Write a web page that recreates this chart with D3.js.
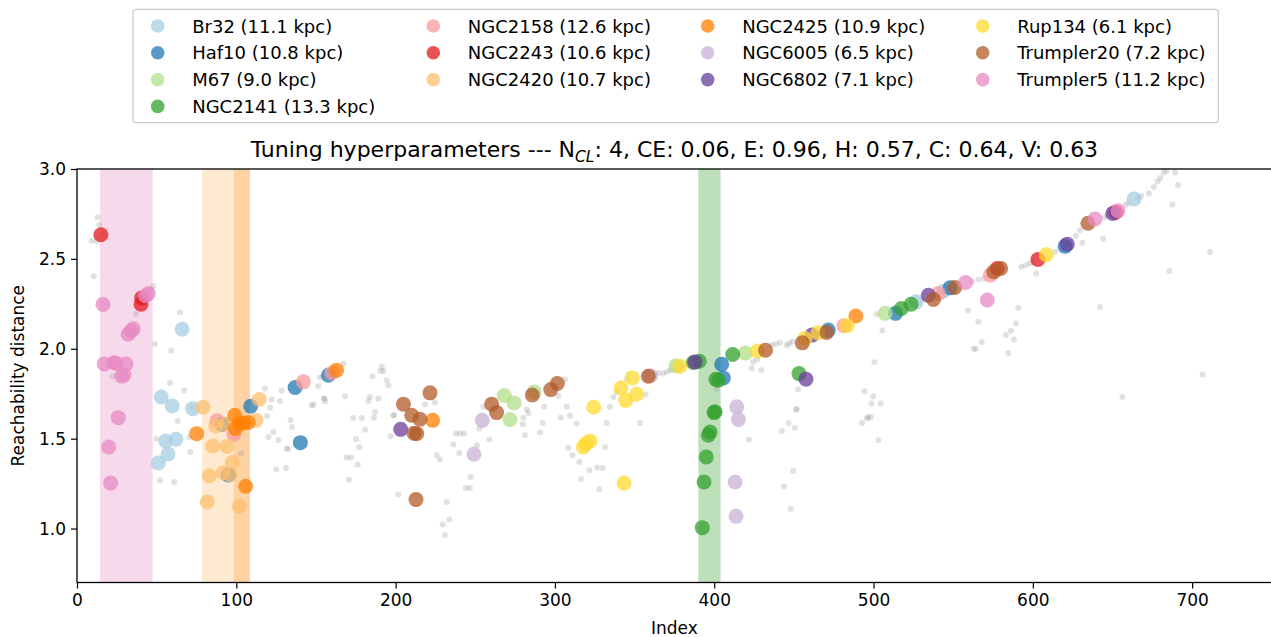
<!DOCTYPE html>
<html>
<head>
<meta charset="utf-8">
<script src="https://cdn.jsdelivr.net/npm/d3@7"></script>
<style>
  body { margin: 0; background: #fff; }
  svg { font-family: "DejaVu Sans", sans-serif; }
</style>
</head>
<body>
<div id="chart"></div>
<script>
// cluster names, distances and colours (legend order)
const clusterNames = ["Br32", "Haf10", "M67", "NGC2141", "NGC2158", "NGC2243", "NGC2420",
  "NGC2425", "NGC6005", "NGC6802", "Rup134", "Trumpler20", "Trumpler5"];
const clusterDist = [11.1, 10.8, 9.0, 13.3, 12.6, 10.6, 10.7, 10.9, 6.5, 7.1, 6.1, 7.2, 11.2];
const clusterColors = ["#a6cee3", "#1f78b4", "#b2df8a", "#33a02c", "#fb9a99", "#e31a1c", "#fdbf6f",
  "#ff7f00", "#cab2d6", "#6a3d9a", "#ffd92f", "#b15928", "#e78ac3"];

// shaded index ranges of the tuned clusters
const spanRanges = [[14.4, 47.5, "#e78ac3"], [78.5, 108.6, "#fdbf6f"], [98.4, 108.6, "#ff7f00"], [390, 404, "#33a02c"]];

// member stars: [ordering index, reachability distance]
const Br32 = [[66,2.109],[52.9,1.732],[59.8,1.682],[72.6,1.667],[62.1,1.497],[55.7,1.487],[57.1,1.415],[51,1.365],
  [526.8,2.261],[543.9,2.32],[663.6,2.833]];
const Haf10 = [[91.2,1.58],[95,1.298],[109,1.68],[140.2,1.478],[136.9,1.785],[157.8,1.853],[404.7,1.914],[405.7,1.838],
  [471.6,2.104],[513.8,2.197],[548,2.339],[620.3,2.571]];
const M67 = [[268.2,1.74],[274.3,1.699],[271.8,1.606],[287,1.76],[376,1.905],[419.6,1.977],[507.3,2.197]];
const NGC2141 = [[390.6,1.931],[386.9,1.924],[402.6,1.825],[401,1.83],[411.6,1.968],[399.9,1.645],[400.5,1.65],[397.4,1.537],
  [396.3,1.519],[395,1.398],[393.6,1.259],[392.5,1.005],[453.2,1.862],[517.5,2.224],[523.6,2.248]];
const NGC2158 = [[87.9,1.6],[98.4,1.523],[142.1,1.816],[160,1.865],[481.4,2.128],[540.8,2.308],[573.3,2.41]];
const NGC2243 = [[15,2.634],[40.2,2.248],[40.6,2.283],[577.7,2.447],[603.2,2.497],[652,2.76]];
const NGC2420 = [[79.1,1.675],[85.2,1.459],[94.2,1.457],[83,1.294],[91.8,1.311],[97.5,1.369],[81.8,1.148],[101.9,1.125],
  [87.1,1.571],[112.4,1.602],[114.4,1.718],[96,1.3],[93,1.58]];
const NGC2425 = [[75.1,1.528],[99,1.63],[99.4,1.556],[104.4,1.587],[107.5,1.59],[105.9,1.235],[102,1.585],[163,1.881],
  [223.3,1.602],[488.9,2.182]];
const NGC6005 = [[254.4,1.602],[249.2,1.413],[414.1,1.677],[415.2,1.606],[413.1,1.259],[413.7,1.068],[360,1.85]];
const NGC6802 = [[203.2,1.552],[388,1.927],[457.6,1.831],[461.4,2.076],[534.4,2.298],[621.6,2.582],[650.2,2.753]];
const Rup134 = [[324.3,1.675],[341.5,1.782],[348.6,1.838],[344.4,1.712],[351.3,1.747],[317.8,1.454],[322,1.487],[319.5,1.473],
  [343.4,1.253],[378.5,1.903],[427.2,1.987],[465.2,2.089],[457,2.057],[483.5,2.128],[608.4,2.523]];
const Trumpler20 = [[204.9,1.692],[221.6,1.755],[210.1,1.63],[215.3,1.608],[213.2,1.528],[211.5,1.53],[212.8,1.161],
  [260.3,1.692],[263.4,1.645],[285.8,1.743],[297.4,1.773],[301.5,1.807],[358.6,1.847],[432.2,1.992],[455.3,2.033],
  [470.6,2.091],[537.6,2.274],[551,2.341],[575.5,2.428],[579.8,2.447],[634.6,2.698]];
const Trumpler5 = [[16.3,2.247],[44.8,2.308],[43,2.295],[35.3,2.111],[32,2.081],[33.9,2.098],[17.1,1.916],[23.2,1.922],
  [24.5,1.92],[30.8,1.916],[28,1.848],[29.5,1.855],[25.9,1.617],[19.9,1.454],[21.1,1.253],[557.8,2.369],[571.4,2.271],
  [639,2.722],[653.4,2.768]];
const members = [Br32, Haf10, M67, NGC2141, NGC2158, NGC2243, NGC2420, NGC2425, NGC6005, NGC6802, Rup134, Trumpler20, Trumpler5];

// all other stars of the reachability plot
const field = [[13,2.731],[14,2.69],[9.2,2.601],[12.3,2.6],[10.5,2.404],[47.9,2.349],[46.5,2.33],[37,2.193],[64.7,2.202],
  [49,2.027],[59.2,1.99],[22.4,1.847],[58.4,1.81],[67.4,1.77],[118,1.779],[128.5,1.766],[122.2,1.718],[127.4,1.71],
  [147.3,1.686],[148.5,1.69],[155,1.723],[152.5,1.84],[151.5,1.792],[121.2,1.673],[63.2,1.599],[70.5,1.51],[50,1.5],
  [71.1,1.426],[52.1,1.267],[61.1,1.259],[72.6,1.673],[103,1.417],[119.3,1.626],[134.1,1.602],[135,1.565],[120.1,1.509],
  [123.2,1.537],[126.4,1.491],[131.6,1.445],[132.6,1.443],[125.1,1.33],[131.2,1.337],[155.7,1.708],[167.2,1.918],
  [191.3,1.9],[192.3,1.877],[190.5,1.877],[185.4,1.847],[194.4,1.825],[195.5,1.797],[155.3,1.723],[168.2,1.736],
  [183.9,1.732],[182.9,1.71],[189.1,1.723],[199,1.63],[218.5,1.69],[224.7,1.701],[173.4,1.615],[178.7,1.615],
  [187.1,1.649],[186.4,1.617],[180.8,1.55],[175.1,1.497],[177.2,1.452],[169.3,1.395],[172,1.395],[176.2,1.357],
  [170.7,1.271],[198.6,1.63],[196.9,1.513],[201.7,1.189],[225.8,1.408],[227.9,1.384],[232.1,1.148],[233.7,1.051],
  [229.6,1.022],[231,0.964],[236.2,1.467],[238,1.528],[240.5,1.53],[243,1.528],[240,1.42],[244,1.226],[246.6,1.226],
  [247.1,1.287],[251,1.463],[252.6,1.556],[258.8,1.495],[255,1.677],[280.2,1.617],[281.2,1.519],[283.3,1.643],
  [279.8,1.58],[282.3,1.662],[290.6,1.536],[292.3,1.587],[293.3,1.677],[302.1,1.738],[306.3,1.829],[303.6,1.617],
  [307.4,1.677],[309.5,1.628],[313.7,1.584],[308.4,1.45],[311,1.408],[315.3,1.37],[316.4,1.276],[321.6,1.324],
  [326.6,1.339],[330,1.337],[331.5,1.454],[327.9,1.218],[332.5,1.587],[334.6,1.677],[336.7,1.732],[338.8,1.76],
  [345.1,1.834],[357,1.746],[353.4,1.587],[368,1.863],[370.2,1.872],[372.3,1.881],[401.5,1.779],[421.8,1.495],
  [442.4,1.543],[446.7,1.587],[450.6,1.561],[451.5,1.662],[449.5,1.32],[443.9,1.235],[448,1.11],[492.8,1.587],
  [496,1.612],[498.3,1.62],[503,1.491],[498.7,1.695],[504.5,1.695],[423.5,1.89],[429.6,1.881],[424.4,1.927],
  [435.9,2.02],[438.5,2.027],[441.3,2.033],[445.6,2.02],[452.6,1.775],[451.7,1.664],[494.4,1.764],[499.7,1.736],
  [496.5,1.621],[500.6,1.925],[505.6,2.102],[502,2.193],[559.3,2.215],[565.8,2.15],[567.9,2.038],[563,2.0],[564,2.0],
  [583.1,2.076],[586.3,2.1],[588.1,2.052],[589.5,2.141],[590.9,2.228],[584.6,1.976],[602.1,2.419],[592.8,2.456],
  [595.5,2.465],[631.1,2.59],[644.1,2.612],[642.2,2.233],[656.2,1.732],[687.6,2.803],[691.1,2.911],[689.2,2.98],
  [685.7,2.432],[711.2,2.538],[706.5,1.857],[678.3,2.93],[682.2,2.98],[672.9,2.865],[668,2.85],[666,2.84],[617.8,2.549],
  [614,2.54],[627,2.627],[629.6,2.66],[569.6,2.391],[566,2.385],[562,2.375],[600,2.48],[598,2.475],[645,2.73],
  [647,2.74],[660,2.81],[658,2.8],[676,2.9],[680,2.95],[684,2.99],[447,2.03],[449,2.04],[512,2.21],[530,2.27],
  [380,1.905],[384,1.915],[362,1.86],[365,1.865],[374,1.89],[427,1.94]];

const xTicks = [0, 100, 200, 300, 400, 500, 600, 700];
const yTicks = [1.0, 1.5, 2.0, 2.5, 3.0];

const W = 1271, H = 637;
const plot = {left: 77, right: 1271.8, top: 169, bottom: 582.5};

const svg = d3.select("#chart").append("svg").attr("width", W).attr("height", H);

const x = d3.scaleLinear().domain([0, 750]).range([plot.left, plot.right]);
const y = d3.scaleLinear().domain([0.7, 3.0]).range([plot.bottom, plot.top]);

// shaded spans
svg.append("g").selectAll("rect").data(spanRanges).enter().append("rect")
  .attr("x", d => x(d[0])).attr("width", d => x(d[1]) - x(d[0]))
  .attr("y", plot.top).attr("height", plot.bottom - plot.top)
  .attr("fill", d => d[2]).attr("fill-opacity", d => d[2] == "#ff7f00" ? 0.22 : 0.32);

// field stars
svg.append("g").selectAll("circle").data(field).enter().append("circle")
  .attr("cx", d => x(d[0])).attr("cy", d => y(d[1])).attr("r", 3)
  .attr("fill", "#9a9a9a").attr("fill-opacity", 0.3);

// cluster members
members.forEach((pts, i) => {
  svg.append("g").selectAll("circle").data(pts).enter().append("circle")
    .attr("cx", d => x(d[0])).attr("cy", d => y(d[1])).attr("r", 7.5)
    .attr("fill", clusterColors[i]).attr("fill-opacity", 0.75);
});

// axes
const xAxis = svg.append("g").attr("transform", `translate(0,${plot.bottom})`)
  .call(d3.axisBottom(x).tickValues(xTicks).tickSize(6).tickPadding(5).tickFormat(d3.format("d")));
const yAxis = svg.append("g").attr("transform", `translate(${plot.left},0)`)
  .call(d3.axisLeft(y).tickValues(yTicks).tickSize(6).tickPadding(5).tickFormat(d3.format(".1f")));
[xAxis, yAxis].forEach(a => {
  a.select(".domain").remove();
  a.selectAll("line").attr("stroke", "#000").attr("stroke-width", 1.2);
  a.selectAll("text").attr("font-size", 17).attr("fill", "#000").attr("font-family", "DejaVu Sans");
});

// spines
svg.append("rect").attr("x", plot.left).attr("y", plot.top)
  .attr("width", plot.right - plot.left).attr("height", plot.bottom - plot.top)
  .attr("fill", "none").attr("stroke", "#000").attr("stroke-width", 1.3);

// axis labels
svg.append("text").attr("x", (plot.left + plot.right) / 2).attr("y", 634)
  .attr("text-anchor", "middle").attr("font-size", 17).text("Index");
svg.append("text").attr("transform", `translate(24,${(plot.top + plot.bottom) / 2}) rotate(-90)`)
  .attr("text-anchor", "middle").attr("font-size", 17).text("Reachability distance");

// title
const title = svg.append("text").attr("x", (plot.left + plot.right) / 2).attr("y", 157)
  .attr("text-anchor", "middle").attr("font-size", 22);
title.append("tspan").text("Tuning hyperparameters --- N");
title.append("tspan").attr("font-size", 15.5).attr("font-style", "italic").attr("dy", 5).text("CL");
title.append("tspan").attr("dy", -5).text(": 4, CE: 0.06, E: 0.96, H: 0.57, C: 0.64, V: 0.63");

// legend
const legendCols = [4, 3, 3, 3];
const colX = [157.7, 433.3, 707.7, 982.7];
svg.append("rect").attr("x", 133).attr("y", 9.3).attr("width", 1085.3).attr("height", 113.4)
  .attr("rx", 3).attr("fill", "#fff").attr("fill-opacity", 0.8).attr("stroke", "#cccccc").attr("stroke-width", 1.2);
let k = 0;
legendCols.forEach((n, c) => {
  for (let r = 0; r < n; r++, k++) {
    const ly = 26 + r * 26.8;
    svg.append("circle").attr("cx", colX[c]).attr("cy", ly).attr("r", 6.8)
      .attr("fill", clusterColors[k]).attr("fill-opacity", 0.75);
    svg.append("text").attr("x", colX[c] + 34.5).attr("y", ly + 6.5).attr("font-size", 18)
      .text(`${clusterNames[k]} (${clusterDist[k].toFixed(1)} kpc)`);
  }
});
</script>
</body>
</html>
